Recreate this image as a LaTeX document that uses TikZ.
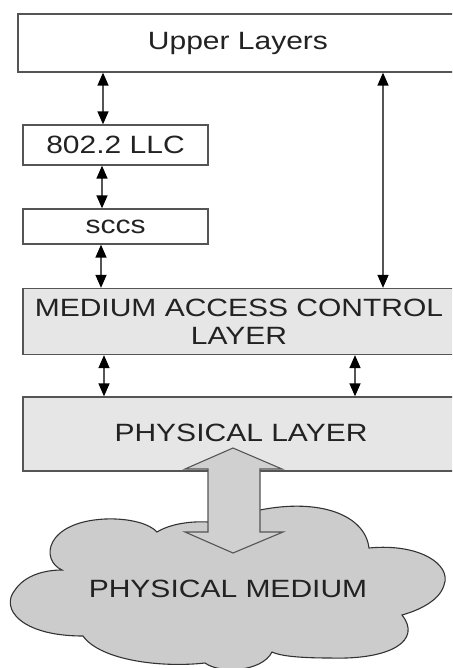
\documentclass[tikz,border=0pt]{standalone}
\usepackage{fontspec}
\setmainfont{Liberation Sans}
\newfontfamily\labfont[FakeStretch=1.2]{Liberation Sans}
\usetikzlibrary{arrows.meta}
\definecolor{edgegray}{HTML}{555555}
\definecolor{layergray}{HTML}{E6E6E6}
\definecolor{cloudgray}{HTML}{CCCCCC}
\definecolor{bigarrowgray}{HTML}{D0D0D0}
\definecolor{txt}{HTML}{222222}
\tikzset{
  layerbox/.style={draw=edgegray, line width=1.3pt, inner sep=0pt, text=txt,
    font=\labfont\fontsize{25}{28}\selectfont, align=center},
  dblarrow/.style={draw=edgegray, line width=1.4pt,
    {Triangle[width=11pt,length=13pt,color=black]}-{Triangle[width=11pt,length=13pt,color=black]}},
  lbl/.style={text=txt, font=\labfont\fontsize{25}{28}\selectfont, inner sep=0pt}
}
\begin{document}
\begin{tikzpicture}[x=1pt,y=-1pt]
\useasboundingbox (0,0) rectangle (452,668);
\clip (0,0) rectangle (452,668);
% layer boxes
\node[layerbox, fill=white, minimum width=440pt, minimum height=58pt] (up) at (238,43) {Upper Layers};
\node[layerbox, fill=white, minimum width=185pt, minimum height=40pt] (llc) at (115.5,145) {802.2 LLC};
\node[layerbox, fill=white, minimum width=185pt, minimum height=35pt] (sccs) at (115.5,226.5) {sccs};
\node[layerbox, fill=layergray, minimum width=432pt, minimum height=66pt] (mac) at (239,321.5) {MEDIUM ACCESS CONTROL\\LAYER};
\node[layerbox, fill=layergray, minimum width=436pt, minimum height=74pt] (phy) at (241,434) {};
\node[lbl] (phyt) at (241,433) {PHYSICAL LAYER};
% x positions of the connectors
\coordinate (xa) at (103,0);
\coordinate (xb) at (102,0);
\coordinate (xc) at (101,0);
\coordinate (xd) at (383,0);
\coordinate (xe) at (104,0);
\coordinate (xf) at (355,0);
\draw[dblarrow] (up.south -| xa) -- (llc.north -| xa);
\draw[dblarrow] (llc.south -| xb) -- (sccs.north -| xb);
\draw[dblarrow] (sccs.south -| xc) -- (mac.north -| xc);
\draw[dblarrow] (up.south -| xd) -- (mac.north -| xd);
\draw[dblarrow] (mac.south -| xe) -- (phy.north -| xe);
\draw[dblarrow] (mac.south -| xf) -- (phy.north -| xf);
% cloud
\draw[fill=cloudgray, draw=black!80, line width=1.1pt]
  (62,570) .. controls (40,560) and (45,522) .. (105,519)
  .. controls (130,518) and (150,524) .. (157,532)
  .. controls (170,524) and (190,521) .. (208,522)
  -- (260,510)
  .. controls (320,498) and (365,515) .. (369,548)
  .. controls (420,543) and (452,565) .. (444,585)
  .. controls (440,600) and (420,610) .. (402,615)
  .. controls (422,640) and (392,660) .. (330,658)
  .. controls (300,658) and (280,656) .. (272,652)
  .. controls (262,672) and (220,674) .. (205,663)
  .. controls (160,668) and (100,660) .. (83,636)
  .. controls (20,636) and (0,608) .. (15,590)
  .. controls (25,575) and (45,570) .. (62,570) -- cycle;
\node[lbl] (pm) at (228,589) {PHYSICAL MEDIUM};
% big double arrow between physical layer and medium
\draw[fill=bigarrowgray, draw=edgegray, line width=1.1pt]
  (233,448) -- (282,469) -- (260,469) -- (260,532) -- (283,532)
  -- (233,553) -- (185,532) -- (208,532) -- (208,469) -- (185,469) -- cycle;
\end{tikzpicture}
\end{document}
